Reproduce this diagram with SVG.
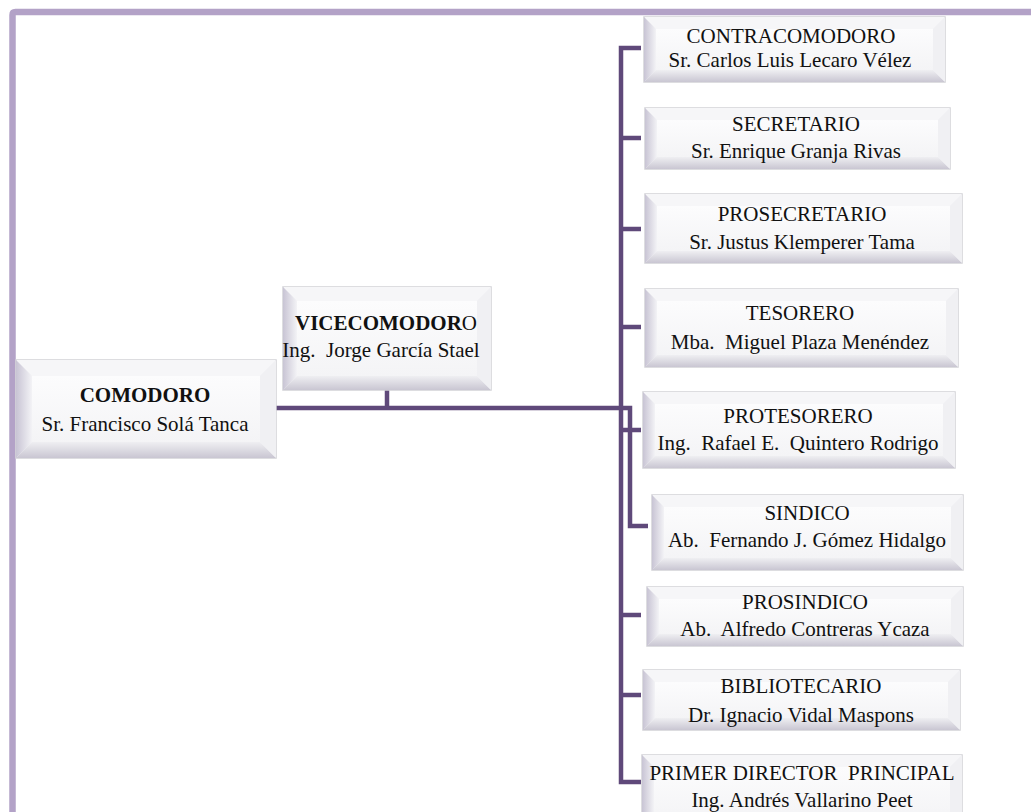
<svg xmlns="http://www.w3.org/2000/svg" width="1031" height="812" viewBox="0 0 1031 812">
<defs>
<linearGradient id="gl" x1="0" y1="0" x2="1" y2="0"><stop offset="0" stop-color="#c8c4d4"/><stop offset="1" stop-color="#f3f3f6"/></linearGradient>
<linearGradient id="gb" x1="0" y1="0" x2="0" y2="1"><stop offset="0" stop-color="#efeff2"/><stop offset="1" stop-color="#c9c6d2"/></linearGradient>
<linearGradient id="gf" x1="0" y1="0" x2="0" y2="1"><stop offset="0" stop-color="#fcfcfd"/><stop offset="1" stop-color="#f4f4f6"/></linearGradient>
</defs>
<style>
.o{fill:#f3f3f5;stroke:#d2d2d6;stroke-width:1.5}
.t{fill:#f6f6f8}
.l{fill:url(#gl)}
.b{fill:url(#gb)}
.r{fill:#f0f0f3}
.f{fill:url(#gf)}
text{font-family:"Liberation Serif","Times New Roman",serif;font-size:21px;fill:#111;text-anchor:middle;white-space:pre}
.bold{font-weight:bold}
.c{fill:none;stroke:#5f497a;stroke-width:4.5;stroke-linejoin:miter}
</style>
<rect width="1031" height="812" fill="#ffffff"/>
<path d="M12.5,812 V15 Q12.5,12 15.5,12 H1031" fill="none" stroke="#b3a2c7" stroke-width="6.5"/>
<g id="connectors">
<path class="c" d="M641,48 H621 V782 H641"/>
<path class="c" d="M621,138 H641 M621,229 H641 M621,327 H641 M621,430 H641 M621,615 H641 M621,695 H641"/>
<path class="c" d="M276,408 H630 V526 H648"/>
<path class="c" d="M387,390 V408"/>
</g>
<g id="comodoro">
<rect class="o" x="16" y="360" width="260" height="98"/>
<polygon class="t" points="16,360 276,360 260,376 32,376"/>
<polygon class="l" points="16,360 32,376 32,442 16,458"/>
<polygon class="b" points="16,458 32,442 260,442 276,458"/>
<polygon class="r" points="276,360 276,458 260,442 260,376"/>
<rect class="f" x="32" y="376" width="228" height="66"/>
<text x="145" y="402" class="bold">COMODORO</text>
<text x="145" y="431">Sr. Francisco Solá Tanca</text>
</g>
<g id="vicecomodoro">
<rect class="o" x="283" y="287" width="208" height="103"/>
<polygon class="t" points="283,287 491,287 477,301 297,301"/>
<polygon class="l" points="283,287 297,301 297,376 283,390"/>
<polygon class="b" points="283,390 297,376 477,376 491,390"/>
<polygon class="r" points="491,287 491,390 477,376 477,301"/>
<rect class="f" x="297" y="301" width="180" height="75"/>
<text x="386" y="330"><tspan class="bold">VICECOMODOR</tspan>O</text>
<text x="381" y="357">Ing.  Jorge García Stael</text>
</g>
<g id="contracomodoro">
<rect class="o" x="644" y="17" width="301" height="65"/>
<polygon class="t" points="644,17 945,17 933,29 656,29"/>
<polygon class="l" points="644,17 656,29 656,70 644,82"/>
<polygon class="b" points="644,82 656,70 933,70 945,82"/>
<polygon class="r" points="945,17 945,82 933,70 933,29"/>
<rect class="f" x="656" y="29" width="277" height="41"/>
<text x="791" y="43">CONTRACOMODORO</text>
<text x="790" y="67">Sr. Carlos Luis Lecaro Vélez</text>
</g>
<g id="secretario">
<rect class="o" x="645" y="108" width="305" height="61"/>
<polygon class="t" points="645,108 950,108 938,120 657,120"/>
<polygon class="l" points="645,108 657,120 657,157 645,169"/>
<polygon class="b" points="645,169 657,157 938,157 950,169"/>
<polygon class="r" points="950,108 950,169 938,157 938,120"/>
<rect class="f" x="657" y="120" width="281" height="37"/>
<text x="796" y="131">SECRETARIO</text>
<text x="796" y="158">Sr. Enrique Granja Rivas</text>
</g>
<g id="prosecretario">
<rect class="o" x="645" y="194" width="317" height="69"/>
<polygon class="t" points="645,194 962,194 950,206 657,206"/>
<polygon class="l" points="645,194 657,206 657,251 645,263"/>
<polygon class="b" points="645,263 657,251 950,251 962,263"/>
<polygon class="r" points="962,194 962,263 950,251 950,206"/>
<rect class="f" x="657" y="206" width="293" height="45"/>
<text x="802" y="221">PROSECRETARIO</text>
<text x="802" y="249">Sr. Justus Klemperer Tama</text>
</g>
<g id="tesorero">
<rect class="o" x="645" y="289" width="313" height="78"/>
<polygon class="t" points="645,289 958,289 946,301 657,301"/>
<polygon class="l" points="645,289 657,301 657,355 645,367"/>
<polygon class="b" points="645,367 657,355 946,355 958,367"/>
<polygon class="r" points="958,289 958,367 946,355 946,301"/>
<rect class="f" x="657" y="301" width="289" height="54"/>
<text x="800" y="320">TESORERO</text>
<text x="800" y="349">Mba.  Miguel Plaza Menéndez</text>
</g>
<g id="protesorero">
<rect class="o" x="643" y="392" width="312" height="76"/>
<polygon class="t" points="643,392 955,392 943,404 655,404"/>
<polygon class="l" points="643,392 655,404 655,456 643,468"/>
<polygon class="b" points="643,468 655,456 943,456 955,468"/>
<polygon class="r" points="955,392 955,468 943,456 943,404"/>
<rect class="f" x="655" y="404" width="288" height="52"/>
<text x="798" y="423">PROTESORERO</text>
<text x="798" y="450">Ing.  Rafael E.  Quintero Rodrigo</text>
</g>
<g id="sindico">
<rect class="o" x="652" y="495" width="311" height="75"/>
<polygon class="t" points="652,495 963,495 951,507 664,507"/>
<polygon class="l" points="652,495 664,507 664,558 652,570"/>
<polygon class="b" points="652,570 664,558 951,558 963,570"/>
<polygon class="r" points="963,495 963,570 951,558 951,507"/>
<rect class="f" x="664" y="507" width="287" height="51"/>
<text x="807" y="520">SINDICO</text>
<text x="807" y="547">Ab.  Fernando J. Gómez Hidalgo</text>
</g>
<g id="prosindico">
<rect class="o" x="647" y="587" width="316" height="59"/>
<polygon class="t" points="647,587 963,587 951,599 659,599"/>
<polygon class="l" points="647,587 659,599 659,634 647,646"/>
<polygon class="b" points="647,646 659,634 951,634 963,646"/>
<polygon class="r" points="963,587 963,646 951,634 951,599"/>
<rect class="f" x="659" y="599" width="292" height="35"/>
<text x="805" y="609">PROSINDICO</text>
<text x="805" y="636">Ab.  Alfredo Contreras Ycaza</text>
</g>
<g id="bibliotecario">
<rect class="o" x="643" y="670" width="317" height="60"/>
<polygon class="t" points="643,670 960,670 948,682 655,682"/>
<polygon class="l" points="643,670 655,682 655,718 643,730"/>
<polygon class="b" points="643,730 655,718 948,718 960,730"/>
<polygon class="r" points="960,670 960,730 948,718 948,682"/>
<rect class="f" x="655" y="682" width="293" height="36"/>
<text x="801" y="693">BIBLIOTECARIO</text>
<text x="801" y="722">Dr. Ignacio Vidal Maspons</text>
</g>
<g id="primer-director">
<rect class="o" x="642" y="755" width="320" height="75"/>
<polygon class="t" points="642,755 962,755 950,767 654,767"/>
<polygon class="l" points="642,755 654,767 654,818 642,830"/>
<polygon class="b" points="642,830 654,818 950,818 962,830"/>
<polygon class="r" points="962,755 962,830 950,818 950,767"/>
<rect class="f" x="654" y="767" width="296" height="51"/>
<text x="802" y="780">PRIMER DIRECTOR  PRINCIPAL</text>
<text x="802" y="807">Ing. Andrés Vallarino Peet</text>
</g>
</svg>
